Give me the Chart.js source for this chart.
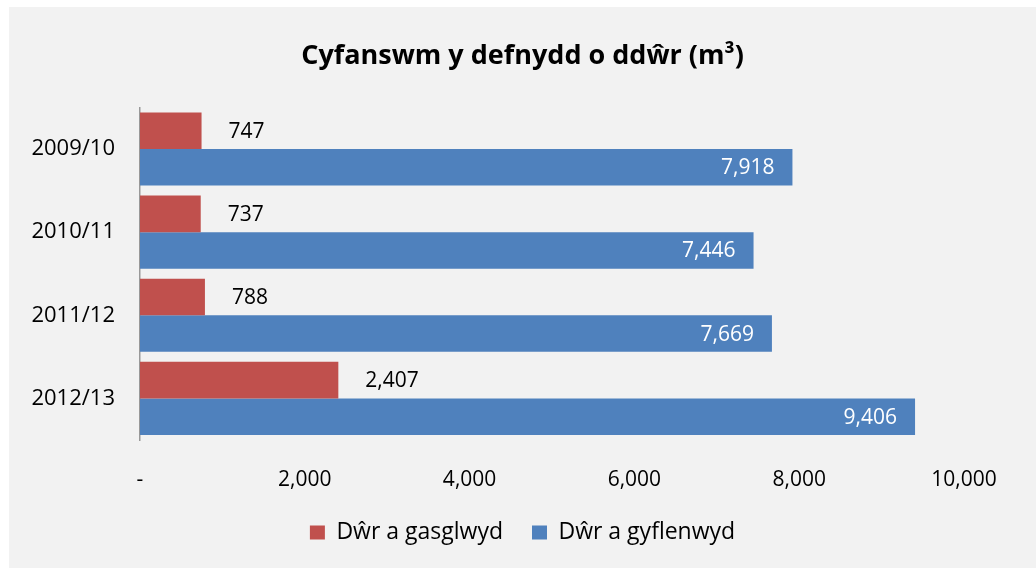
<!DOCTYPE html>
<html>
<head>
<meta charset="utf-8">
<script src="https://cdn.jsdelivr.net/npm/chart.js@4.4.1/dist/chart.umd.min.js"></script>
<style>
  html, body { margin: 0; padding: 0; background: #fff; }
  #wrap { position: absolute; left: 9px; top: 7px; width: 1027px; height: 561px; background: #f2f2f2; }
</style>
</head>
<body>
<div id="wrap"><canvas id="waterChart" width="1027" height="561"></canvas></div>
<script>
const years = ["2009/10", "2010/11", "2011/12", "2012/13"];
const collected = [747, 737, 788, 2407];
const supplied = [7918, 7446, 7669, 9406];
const seriesNames = ["D\u0175r a gasglwyd", "D\u0175r a gyflenwyd"];
const xTicks = [0, 2000, 4000, 6000, 8000, 10000];

const FONT = "'Open Sans', 'Noto Sans', sans-serif";
const fmt = (v) => v.toLocaleString("en-US");

// value labels: red ones outside the bar end, blue ones inside in white
const valueLabels = {
  id: "valueLabels",
  afterDatasetsDraw(chart) {
    const ctx = chart.ctx;
    ctx.save();
    ctx.font = "21px " + FONT;
    ctx.textBaseline = "middle";
    chart.data.datasets.forEach((ds, i) => {
      chart.getDatasetMeta(i).data.forEach((bar, j) => {
        const v = ds.data[j];
        if (i === 0) {
          ctx.fillStyle = "#000";
          ctx.textAlign = "left";
          ctx.fillText(fmt(v), bar.x + 27, bar.y + 1);
        } else {
          ctx.fillStyle = "#fff";
          ctx.textAlign = "right";
          ctx.fillText(fmt(v), bar.x - 18, bar.y + 1);
        }
      });
    });
    ctx.restore();
  }
};

new Chart(document.getElementById("waterChart"), {
  type: "bar",
  data: {
    labels: years,
    datasets: [
      { label: seriesNames[0], data: collected, backgroundColor: "#c0504d" },
      { label: seriesNames[1], data: supplied, backgroundColor: "#4f81bd" }
    ]
  },
  options: {
    indexAxis: "y",
    responsive: false,
    animation: false,
    categoryPercentage: 0.88,
    barPercentage: 1.0,
    layout: { padding: { left: 0, right: 0, top: 0, bottom: 14 } },
    scales: {
      x: {
        min: 0,
        max: 10000,
        afterBuildTicks: (s) => { s.ticks = xTicks.map((v) => ({ value: v })); },
        grid: { display: false, drawTicks: false },
        border: { display: false },
        ticks: {
          padding: 27,
          color: "#000",
          font: { family: FONT, size: 21 },
          callback: (v) => (v === 0 ? "-" : fmt(v))
        },
        afterFit: (s) => { s.height = 52; s.paddingRight = 72; }
      },
      y: {
        grid: { display: false, drawTicks: false },
        border: { display: true, color: "#999", width: 1.5 },
        ticks: { padding: 25, color: "#000", font: { family: FONT, size: 22 } },
        afterFit: (s) => { s.width = 131; }
      }
    },
    plugins: {
      title: {
        display: true,
        text: "Cyfanswm y defnydd o dd\u0175r (m\u00b3)",
        color: "#000",
        font: { family: FONT, size: 27, weight: "bold" },
        padding: { top: 33, bottom: 35 }
      },
      legend: {
        position: "bottom",
        labels: {
          color: "#000",
          font: { family: FONT, size: 23 },
          boxWidth: 15,
          boxHeight: 14,
          padding: 29
        }
      },
      tooltip: { enabled: false }
    }
  },
  plugins: [valueLabels]
});
</script>
</body>
</html>
